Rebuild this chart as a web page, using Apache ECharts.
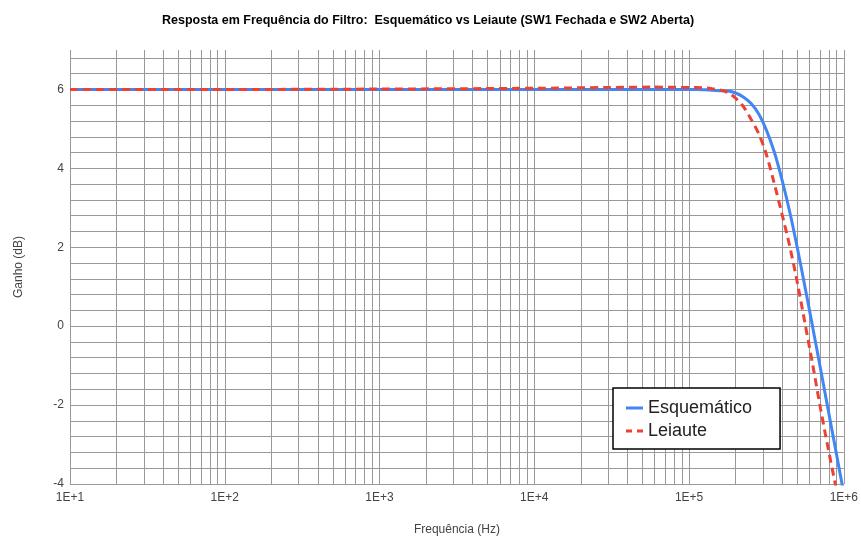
<!DOCTYPE html>
<html>
<head>
<meta charset="utf-8">
<script src="https://cdn.jsdelivr.net/npm/echarts@6/dist/echarts.min.js"></script>
<style>
  html, body { margin: 0; padding: 0; background: #fff; }
  #chart { width: 861px; height: 541px; }
</style>
</head>
<body>
<div id="chart"></div>
<script>
// Frequency points (Hz) and gain (dB) for both curves
const freqs = [10, 100, 1000, 10000, 30000, 60000, 100000, 112000, 126000, 141000, 158000, 178000, 200000, 224000, 251000, 282000, 316000, 355000, 398000, 447000, 501000, 562000, 631000, 708000, 794000, 891000, 1000000];
const gainEsquematico = [6.00, 6.00, 6.00, 6.00, 6.00, 6.00, 6.00, 6.00, 5.99, 5.98, 5.97, 5.96, 5.91, 5.81, 5.65, 5.38, 4.97, 4.42, 3.72, 2.90, 1.98, 0.98, -0.05, -1.09, -2.14, -3.19, -4.24];
const gainLeiaute = [6.00, 6.00, 6.01, 6.03, 6.05, 6.06, 6.05, 6.05, 6.04, 6.02, 5.99, 5.92, 5.78, 5.57, 5.25, 4.88, 4.35, 3.62, 2.85, 2.03, 1.10, 0.06, -1.00, -2.10, -3.12, -4.10, -5.10];

const seriesNames = ['Esquemático', 'Leiaute'];
const seriesColors = ['#4285F4', '#EA4335'];
const yTickLabels = [-4, -2, 0, 2, 4, 6];

// Minor log grid: 2..9 within each decade
const minorGrid = [];
for (let d = 10; d < 1000000; d *= 10) {
  for (let k = 2; k <= 9; k++) minorGrid.push({ xAxis: k * d });
}

const chart = echarts.init(document.getElementById('chart'), null, { renderer: 'canvas' });
const font = 'Arial, "Liberation Sans", sans-serif';
const gridColor = '#999';

chart.setOption({
  animation: false,
  backgroundColor: '#fff',
  title: {
    text: 'Resposta em Frequência do Filtro:  Esquemático vs Leiaute (SW1 Fechada e SW2 Aberta)',
    left: 157,
    top: 9,
    textStyle: { fontFamily: font, fontSize: 12.5, fontWeight: 'bold', color: '#000' }
  },
  legend: {
    data: [
      { name: seriesNames[0], icon: 'path://M0,0H17V3H0Z' },
      { name: seriesNames[1], icon: 'path://M0,0H6V3H0Z M11,0H17V3H11Z' }
    ],
    orient: 'vertical',
    left: 613,
    top: 388,
    padding: [11, 28, 9, 13],
    itemGap: 5,
    itemWidth: 17,
    itemHeight: 3,
    backgroundColor: '#fff',
    borderColor: '#000',
    borderWidth: 1.5,
    borderRadius: 0,
    textStyle: { fontFamily: font, fontSize: 18, color: '#222', padding: [0, 0, 0, 0] }
  },
  grid: { left: 70, right: 16, top: 50, bottom: 57, containLabel: false },
  xAxis: {
    type: 'log',
    logBase: 10,
    min: 10,
    max: 1000000,
    name: 'Frequência (Hz)',
    nameLocation: 'middle',
    nameGap: 40,
    nameTextStyle: { fontFamily: font, fontSize: 12, color: '#444' },
    axisLine: { show: false },
    axisTick: { show: false },
    axisLabel: {
      fontFamily: font, fontSize: 12, color: '#444', margin: 8,
      formatter: v => '1E+' + Math.round(Math.log10(v))
    },
    splitLine: { show: true, lineStyle: { color: gridColor, width: 1 } }
  },
  yAxis: {
    type: 'value',
    min: -4,
    max: 7,
    interval: 0.4,
    name: 'Ganho (dB)',
    nameLocation: 'middle',
    nameGap: 45,
    nameTextStyle: { fontFamily: font, fontSize: 12, color: '#444' },
    axisLine: { show: false },
    axisTick: { show: false },
    axisLabel: {
      fontFamily: font, fontSize: 12, color: '#444', margin: 6,
      formatter: v => {
        const hit = yTickLabels.find(t => Math.abs(t - v) < 1e-6);
        return hit === undefined ? '' : String(hit);
      }
    },
    splitLine: { show: true, showMaxLine: false, lineStyle: { color: gridColor, width: 1 } }
  },
  series: [
    {
      name: seriesNames[0],
      type: 'line',
      data: freqs.map((f, i) => [f, gainEsquematico[i]]),
      symbol: 'none',
      smooth: 0.3,
      clip: true,
      z: 3,
      lineStyle: { color: seriesColors[0], width: 3 },
      itemStyle: { color: seriesColors[0] },
      markLine: {
        silent: true,
        z: 1,
        symbol: ['none', 'none'],
        label: { show: false },
        emphasis: { disabled: true },
        lineStyle: { type: 'solid', color: gridColor, width: 1 },
        data: minorGrid
      }
    },
    {
      name: seriesNames[1],
      type: 'line',
      data: freqs.map((f, i) => [f, gainLeiaute[i]]),
      symbol: 'none',
      smooth: 0.3,
      clip: true,
      z: 4,
      lineStyle: { color: seriesColors[1], width: 3, type: [8, 5] },
      itemStyle: { color: seriesColors[1] }
    }
  ]
});
</script>
</body>
</html>
